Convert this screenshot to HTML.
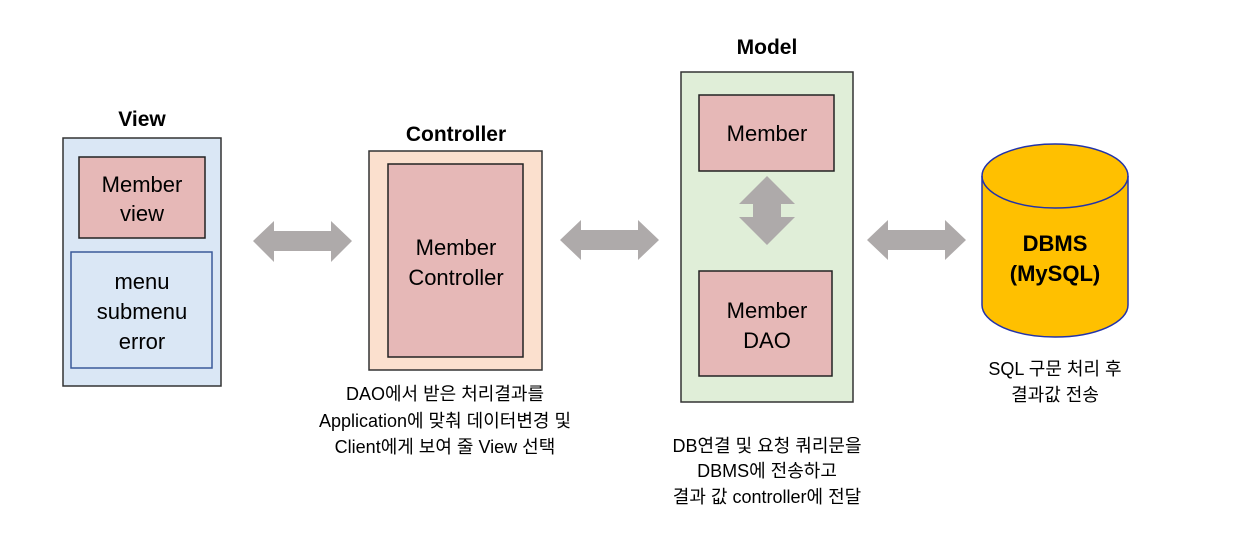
<!DOCTYPE html>
<html><head><meta charset="utf-8"><style>
body{margin:0;background:#fff;}
svg text{font-family:"Liberation Sans","Noto Sans CJK KR",sans-serif;}
</style></head><body>
<svg width="1259" height="544" viewBox="0 0 1259 544" xmlns="http://www.w3.org/2000/svg">
<g text-anchor="middle">
<!-- View -->
<text x="142" y="126" font-size="21" font-weight="bold">View</text>
<rect x="63" y="138" width="158" height="248" fill="#dae7f5" stroke="#333" stroke-width="1.5"/>
<rect x="79" y="157" width="126" height="81" fill="#e6b8b7" stroke="#222" stroke-width="1.5"/>
<text x="142" y="192" font-size="22">Member</text>
<text x="142" y="221" font-size="22">view</text>
<rect x="71" y="252" width="141" height="116" fill="#dae7f5" stroke="#3a5a9a" stroke-width="1.5"/>
<text x="142" y="289" font-size="22">menu</text>
<text x="142" y="319" font-size="22">submenu</text>
<text x="142" y="349" font-size="22">error</text>
<!-- Controller -->
<text x="456" y="141" font-size="21" font-weight="bold">Controller</text>
<rect x="369" y="151" width="173" height="219" fill="#fbe0ce" stroke="#333" stroke-width="1.5"/>
<rect x="388" y="164" width="135" height="193" fill="#e6b8b7" stroke="#222" stroke-width="1.5"/>
<text x="456" y="255" font-size="22">Member</text>
<text x="456" y="285" font-size="22">Controller</text>
<text x="445" y="400" font-size="18">DAO에서 받은 처리결과를</text>
<text x="445" y="427" font-size="18">Application에 맞춰 데이터변경 및</text>
<text x="445" y="453" font-size="18">Client에게 보여 줄 View 선택</text>
<!-- Model -->
<text x="767" y="54" font-size="21" font-weight="bold">Model</text>
<rect x="681" y="72" width="172" height="330" fill="#e0eed8" stroke="#333" stroke-width="1.5"/>
<rect x="699" y="95" width="135" height="76" fill="#e6b8b7" stroke="#222" stroke-width="1.5"/>
<text x="767" y="141" font-size="22">Member</text>
<rect x="699" y="271" width="133" height="105" fill="#e6b8b7" stroke="#222" stroke-width="1.5"/>
<text x="767" y="318" font-size="22">Member</text>
<text x="767" y="348" font-size="22">DAO</text>
<polygon points="767,176 795,204 781,204 781,217 795,217 767,245 739,217 753,217 753,204 739,204" fill="#aeaaaa"/>
<text x="767" y="452" font-size="18">DB연결 및 요청 쿼리문을</text>
<text x="767" y="477" font-size="18">DBMS에 전송하고</text>
<text x="767" y="503" font-size="18">결과 값 controller에 전달</text>
<!-- arrows -->
<polygon points="253,241 274,221 274,231 331,231 331,221 352,241 331,262 331,251 274,251 274,262" fill="#aeaaaa"/>
<polygon points="560,240 581,220 581,230 638,230 638,220 659,240 638,260 638,250 581,250 581,260" fill="#aeaaaa"/>
<polygon points="867,240 888,220 888,230 945,230 945,220 966,240 945,260 945,250 888,250 888,260" fill="#aeaaaa"/>
<!-- DBMS -->
<path d="M982,176 L982,305 A73,32 0 0 0 1128,305 L1128,176 A73,32 0 0 0 982,176 Z" fill="#ffc000" stroke="#2233aa" stroke-width="1.5"/>
<path d="M982,176 A73,32 0 0 0 1128,176" fill="none" stroke="#2233aa" stroke-width="1.5"/>
<text x="1055" y="251" font-size="22" font-weight="bold">DBMS</text>
<text x="1055" y="281" font-size="22" font-weight="bold">(MySQL)</text>
<text x="1055" y="375" font-size="18">SQL 구문 처리 후</text>
<text x="1055" y="401" font-size="18">결과값 전송</text>
</g>
</svg>
</body></html>
